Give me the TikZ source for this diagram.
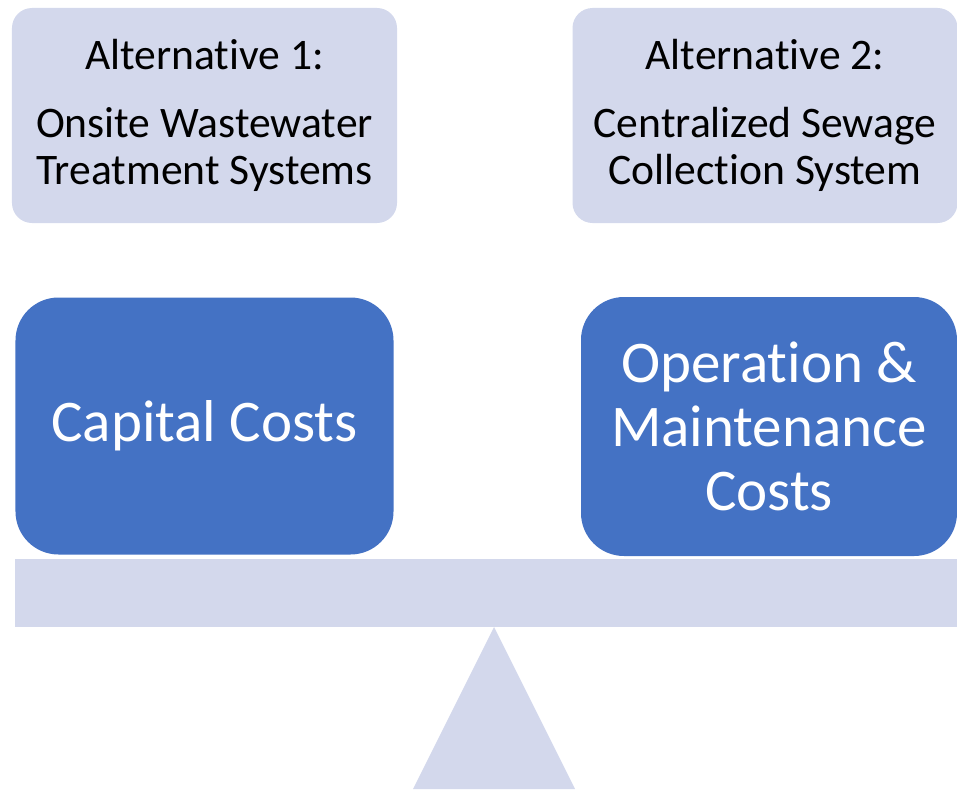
\documentclass[tikz,border=0pt]{standalone}
\usepackage{fontspec}
\setmainfont{Carlito}[Ligatures=NoCommon]
\usetikzlibrary{positioning}
\definecolor{altfill}{HTML}{D3D8EC}
\definecolor{costfill}{HTML}{4472C4}

\begin{document}
\begin{tikzpicture}[
  x=0.2mm, y=-0.2mm,
  altbox/.style={fill=altfill,rounded corners=4mm,minimum width=77mm,minimum height=43mm,align=center,inner sep=0pt,text=black,font=\fontsize{24.8pt}{26.7pt}\selectfont},
  costbox/.style={fill=costfill,rounded corners=8.6mm,minimum width=75.6mm,minimum height=51.4mm,align=center,inner sep=0pt,text=white,font=\fontsize{33.6pt}{36.4pt}\selectfont}
]
  \useasboundingbox (0,0) rectangle (957,789);

  \node[altbox] (alt1) at (204.5,115.5) {Alternative 1:\\[12pt]Onsite Wastewater\\Treatment Systems};
  \node[altbox] (alt2) at (765,115.5) {Alternative 2:\\[12pt]Centralized Sewage\\Collection System};

  \node[costbox] (capital) at (204.5,426) {Capital Costs};
  \node[costbox,minimum width=75.2mm,minimum height=51.8mm] (om) at (769,426.5) {Operation \&\\Maintenance\\Costs};

  % balance beam and pivot
  \node[fill=altfill,minimum width=188.4mm,minimum height=13.6mm,inner sep=0pt] (beam) at (486,593) {};
  \fill[altfill] (413,789) -- (494,627) -- (575,789) -- cycle;
\end{tikzpicture}
\end{document}
